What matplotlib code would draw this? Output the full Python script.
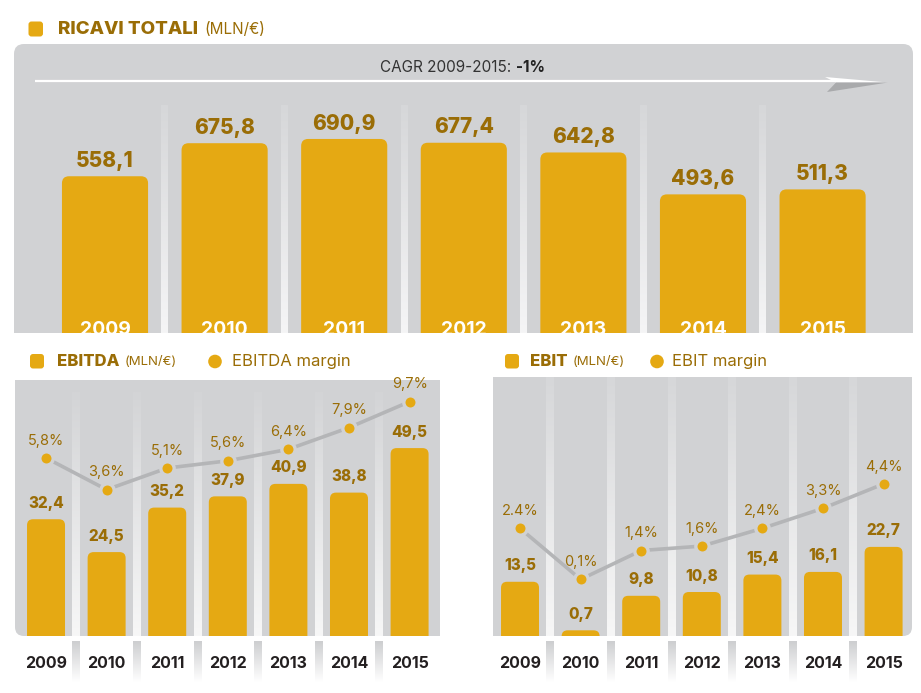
import numpy as np
import matplotlib
matplotlib.use("Agg")
import matplotlib.pyplot as plt
import matplotlib.patches as patches
import matplotlib.transforms as mtrans
from matplotlib.colors import LinearSegmentedColormap

plt.rcParams['font.family'] = ['Inter', 'DejaVu Sans']

# --- data ---
years = ['2009', '2010', '2011', '2012', '2013', '2014', '2015']
revenue = [558.1, 675.8, 690.9, 677.4, 642.8, 493.6, 511.3]
ebitda = [32.4, 24.5, 35.2, 37.9, 40.9, 38.8, 49.5]
ebitda_margin = [5.8, 3.6, 5.1, 5.6, 6.4, 7.9, 9.7]
ebit = [13.5, 0.7, 9.8, 10.8, 15.4, 16.1, 22.7]
ebit_margin = [2.4, 0.1, 1.4, 1.6, 2.4, 3.3, 4.4]
ebit_margin_labels = ['2.4%', '0,1%', '1,4%', '1,6%', '2,4%', '3,3%', '4,4%']

GOLD = '#E5A913'
DARK = '#9A6D06'
PANEL = '#D1D2D4'
LINE = '#B4B5B7'
YEAR = '#231F20'

W, H = 921, 693
fig = plt.figure(figsize=(W / 100, H / 100), dpi=100)


def px_axes(x0, y0, x1, y1, z=1):
    a = fig.add_axes([x0 / W, 1 - y1 / H, (x1 - x0) / W, (y1 - y0) / H])
    a.set_zorder(z)
    a.patch.set_alpha(0)
    a.axis('off')
    return a


def fmt(v):
    return f"{v:.1f}".replace('.', ',')


# background layer in pixel coords
bg = px_axes(0, 0, W, H, z=0)


def panel(x0, y0, x1, y1, r, square=()):
    bg.add_patch(patches.FancyBboxPatch((x0, y0), x1 - x0, y1 - y0,
                                        boxstyle=f"round,pad=0,rounding_size={r}",
                                        fc=PANEL, ec='none', zorder=0))
    for cx, cy in square:
        bx = x0 if cx == 'l' else x1 - r - 1
        by = y0 if cy == 't' else y1 - r - 1
        bg.add_patch(patches.Rectangle((bx, by), r + 1, r + 1, fc=PANEL, ec='none', zorder=0))


def vgrad(x0, x1, ytop, ybot, c_top, c_bot):
    cmap = LinearSegmentedColormap.from_list('g', [c_top, c_bot])
    arr = np.linspace(0, 1, 128).reshape(-1, 1)
    bg.imshow(arr, cmap=cmap, extent=(x0, x1, ybot, ytop), origin='upper',
              aspect='auto', zorder=1, interpolation='bilinear')


def col_px(ax, xv):
    return ax.transData.transform((xv, 0))[0]


def rounded_bars(ax, vals, width, r_px):
    pos = ax.get_position()
    xl, yl = ax.get_xlim(), ax.get_ylim()
    ppx = pos.width * W / (xl[1] - xl[0])
    ppy = pos.height * H / (yl[1] - yl[0])
    base = yl[0] - 30 / ppy
    for i, v in enumerate(vals):
        ax.add_patch(patches.FancyBboxPatch(
            (i - width / 2, base), width, v - base,
            boxstyle=f"round,pad=0,rounding_size={r_px / ppx}",
            mutation_aspect=ppx / ppy, fc=GOLD, ec='none', zorder=2))


x = np.arange(len(years))

# ---------- top panel: revenue ----------
panel(14, 44, 913, 333, 10, square=[('l', 'b'), ('r', 'b')])
ax0 = px_axes(14, 44, 913, 333)
ax0.set_xlim(-0.761, 6.756)
ax0.set_ylim(0, 1029)
rounded_bars(ax0, revenue, 0.72, 7)
for i, v in enumerate(revenue):
    ax0.annotate(fmt(v), (i, v), xytext=(0, 11), textcoords='offset points',
                 ha='center', va='center', fontsize=15, fontweight='heavy', color=DARK)
    ax0.text(i, 0, years[i], ha='center', va='baseline', fontsize=14, fontweight='bold',
             color='white', clip_on=True, zorder=3,
             transform=mtrans.offset_copy(ax0.transData, fig, y=-2, units='dots'))
for i in range(6):
    cx = col_px(ax0, i + 0.5)
    vgrad(cx - 3.5, cx + 3.5, 105, 333, '#D6D7D9', '#F5F5F6')

# CAGR arrow
bg.plot([35, 840], [81, 81], color='white', lw=1.6, zorder=2, solid_capstyle='butt')
bg.add_patch(patches.Polygon([(825, 77), (888, 82.5), (836, 82.5)], closed=True,
                             fc='white', ec='none', zorder=3))
bg.add_patch(patches.Polygon([(836, 82.5), (888, 82.5), (827, 92)], closed=True,
                             fc='#A9AAAC', ec='none', zorder=3))
bg.text(515, 67, 'CAGR 2009-2015: ', ha='right', va='center', fontsize=11, color='#333333', zorder=3)
bg.text(516, 67, '-1%', ha='left', va='center', fontsize=11, fontweight='bold', color='#222222', zorder=3)

# title
bg.add_patch(patches.FancyBboxPatch((28.5, 21.5), 14.5, 15, boxstyle="round,pad=0,rounding_size=3",
                                    fc=GOLD, ec='none', zorder=3))
bg.text(58, 29.5, 'RICAVI TOTALI', ha='left', va='center', fontsize=13.5, fontweight='heavy', color=DARK)
bg.text(204, 30, '(MLN/€)', ha='left', va='center', fontsize=11, color=DARK)

# ---------- bottom left: EBITDA ----------
panel(15, 380, 440, 636, 9, square=[('l', 't'), ('r', 't'), ('r', 'b')])
ax1 = px_axes(15, 380, 440, 636)
ax1.set_xlim(-0.512, 6.502)
ax1.set_ylim(4.33, 65.87)
rounded_bars(ax1, ebitda, 0.627, 6)
for i, v in enumerate(ebitda):
    ax1.annotate(fmt(v), (i, v), xytext=(0, 11.5), textcoords='offset points',
                 ha='center', va='center', fontsize=11, fontweight='heavy', color=DARK)
m1 = ax1.twinx()
m1.axis('off')
m1.set_ylim(-6.54, 11.2)
m1.plot(x, ebitda_margin, color=LINE, lw=2.6, zorder=3, solid_capstyle='butt')
m1.plot(x, ebitda_margin, 'o', ms=9.6, mew=2.4, mfc=GOLD, mec=PANEL, zorder=4)
for i, v in enumerate(ebitda_margin):
    m1.annotate(fmt(v) + '%', (i, v), xytext=(0, 12.5), textcoords='offset points',
                ha='center', va='center', fontsize=10.5, color=DARK)
for i in range(6):
    cx = col_px(ax1, i + 0.5)
    vgrad(cx - 4, cx + 4, 392, 636, '#D3D4D6', '#F7F7F7')
    vgrad(cx - 4, cx + 4, 641, 682, '#CDCED0', '#FFFFFF')
for i, y in enumerate(years):
    ax1.annotate(y, (i, 0), xycoords=('data', 'axes fraction'), xytext=(0, -19.5),
                 textcoords='offset points', ha='center', va='center',
                 fontsize=11.5, fontweight='bold', color=YEAR, annotation_clip=False)

# legend EBITDA
bg.add_patch(patches.FancyBboxPatch((30, 354), 14, 14.5, boxstyle="round,pad=0,rounding_size=3",
                                    fc=GOLD, ec='none', zorder=3))
bg.text(57, 361.5, 'EBITDA', ha='left', va='center', fontsize=12, fontweight='heavy', color=DARK)
bg.text(125, 362, '(MLN/€)', ha='left', va='center', fontsize=9.5, color=DARK)
bg.add_patch(patches.Circle((215, 361.5), 6.8, fc=GOLD, ec='none', zorder=3))
bg.text(232, 361.5, 'EBITDA margin', ha='left', va='center', fontsize=12, color=DARK)

# ---------- bottom right: EBIT ----------
panel(493, 377, 912, 636, 9, square=[('l', 't'), ('r', 't'), ('l', 'b')])
ax2 = px_axes(493, 377, 912, 636)
ax2.set_xlim(-0.446, 6.469)
ax2.set_ylim(-0.8, 67.5)
rounded_bars(ax2, ebit, 0.627, 6)
for i, v in enumerate(ebit):
    ax2.annotate(fmt(v), (i, v), xytext=(0, 11.5), textcoords='offset points',
                 ha='center', va='center', fontsize=11, fontweight='heavy', color=DARK)
m2 = ax2.twinx()
m2.axis('off')
m2.set_ylim(-2.45, 9.216)
m2.plot(x, ebit_margin, color=LINE, lw=2.6, zorder=3, solid_capstyle='butt')
m2.plot(x, ebit_margin, 'o', ms=9.6, mew=2.4, mfc=GOLD, mec=PANEL, zorder=4)
for i, v in enumerate(ebit_margin):
    m2.annotate(ebit_margin_labels[i], (i, v), xytext=(0, 12.5), textcoords='offset points',
                ha='center', va='center', fontsize=10.5, color=DARK)
for i in range(6):
    cx = col_px(ax2, i + 0.5)
    vgrad(cx - 4, cx + 4, 377, 636, '#D6D7D9', '#F7F7F7')
    vgrad(cx - 4, cx + 4, 641, 682, '#CDCED0', '#FFFFFF')
for i, y in enumerate(years):
    ax2.annotate(y, (i, 0), xycoords=('data', 'axes fraction'), xytext=(0, -19.5),
                 textcoords='offset points', ha='center', va='center',
                 fontsize=11.5, fontweight='bold', color=YEAR, annotation_clip=False)

# legend EBIT
bg.add_patch(patches.FancyBboxPatch((505, 354), 14, 14.5, boxstyle="round,pad=0,rounding_size=3",
                                    fc=GOLD, ec='none', zorder=3))
bg.text(530, 361.5, 'EBIT', ha='left', va='center', fontsize=12, fontweight='heavy', color=DARK)
bg.text(573, 362, '(MLN/€)', ha='left', va='center', fontsize=9.5, color=DARK)
bg.add_patch(patches.Circle((657, 361.5), 6.8, fc=GOLD, ec='none', zorder=3))
bg.text(672, 361.5, 'EBIT margin', ha='left', va='center', fontsize=12, color=DARK)

bg.set_xlim(0, W)
bg.set_ylim(H, 0)

fig.savefig('out.png', dpi=100, facecolor='white')
